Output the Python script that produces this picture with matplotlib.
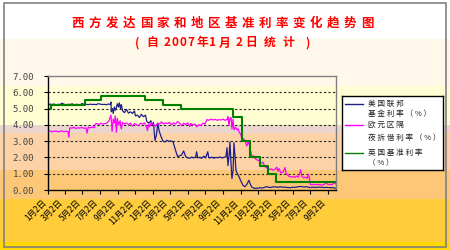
import pandas as pd
import matplotlib
matplotlib.use("Agg")
import matplotlib.pyplot as plt
from matplotlib.patches import Rectangle
from matplotlib.lines import Line2D
from matplotlib.ticker import FormatStrFormatter

plt.rcParams['font.family'] = ['Noto Sans CJK SC', 'DejaVu Sans']

# ---- text ----
title_line1 = "西方发达国家和地区基准利率变化趋势图"
title_line2 = ["(", "自", "2", "0", "0", "7", "年", "1", "月", "2", "日", "统", "计", ")"]
series_labels = [["美国联邦", "基金利率（%）"],
                 ["欧元区隔", "夜拆借利率（%）"],
                 ["英国基准利率", "（%）"]]

tick_dates = ['2007-01-02', '2007-03-02', '2007-05-02', '2007-07-02', '2007-09-02', '2007-11-02',
              '2008-01-02', '2008-03-02', '2008-05-02', '2008-07-02', '2008-09-02', '2008-11-02',
              '2009-01-02', '2009-03-02', '2009-05-02', '2009-07-02', '2009-09-02']
tick_labels = ['1月2日', '3月2日', '5月2日', '7月2日', '9月2日', '11月2日',
               '1月2日', '3月2日', '5月2日', '7月2日', '9月2日', '11月2日',
               '1月2日', '3月2日', '5月2日', '7月2日', '9月2日']

# ---- US federal funds (effective) ----
fed_dates = ['2007-01-02', '2007-01-09', '2007-01-16', '2007-01-23', '2007-01-30', '2007-02-06', '2007-02-13',
             '2007-02-20', '2007-02-27', '2007-03-06', '2007-03-13', '2007-03-20', '2007-03-27', '2007-04-03',
             '2007-04-10', '2007-04-17', '2007-04-24', '2007-05-01', '2007-05-08', '2007-05-15', '2007-05-22',
             '2007-05-29', '2007-06-05', '2007-06-12', '2007-06-19', '2007-06-26', '2007-07-03', '2007-07-10',
             '2007-07-17', '2007-07-24', '2007-07-31', '2007-08-07', '2007-08-09', '2007-08-10', '2007-08-14',
             '2007-08-17', '2007-08-21', '2007-08-24', '2007-08-28', '2007-08-31', '2007-09-04', '2007-09-07',
             '2007-09-11', '2007-09-14', '2007-09-19', '2007-09-25', '2007-10-02', '2007-10-09', '2007-10-16',
             '2007-10-23', '2007-10-30', '2007-11-02', '2007-11-09', '2007-11-16', '2007-11-23', '2007-11-30',
             '2007-12-07', '2007-12-12', '2007-12-19', '2007-12-26', '2007-12-31', '2008-01-04', '2008-01-09',
             '2008-01-14', '2008-01-19', '2008-01-24', '2008-01-30', '2008-02-06', '2008-02-13', '2008-02-20',
             '2008-02-27', '2008-03-05', '2008-03-12', '2008-03-18', '2008-03-24', '2008-03-28', '2008-04-04',
             '2008-04-11', '2008-04-18', '2008-04-25', '2008-05-02', '2008-05-09', '2008-05-16', '2008-05-23',
             '2008-05-30', '2008-06-02', '2008-06-06', '2008-06-13', '2008-06-20', '2008-06-27', '2008-07-03',
             '2008-07-11', '2008-07-14', '2008-07-18', '2008-07-25', '2008-08-01', '2008-08-08', '2008-08-15',
             '2008-08-22', '2008-08-29', '2008-09-05', '2008-09-12', '2008-09-16', '2008-09-19', '2008-09-23',
             '2008-09-26', '2008-09-30', '2008-10-03', '2008-10-07', '2008-10-10', '2008-10-14', '2008-10-17',
             '2008-10-22', '2008-10-28', '2008-11-03', '2008-11-10', '2008-11-17', '2008-11-24', '2008-12-01',
             '2008-12-05', '2008-12-10', '2008-12-17', '2008-12-24', '2009-01-02', '2009-01-09', '2009-01-16',
             '2009-01-23', '2009-01-30', '2009-02-06', '2009-02-13', '2009-02-20', '2009-02-27', '2009-03-06',
             '2009-03-13', '2009-03-20', '2009-03-27', '2009-04-03', '2009-04-10', '2009-04-17', '2009-04-24',
             '2009-05-01', '2009-05-08', '2009-05-15', '2009-05-22', '2009-05-29', '2009-06-05', '2009-06-12',
             '2009-06-19', '2009-06-26', '2009-07-03', '2009-07-10', '2009-07-17', '2009-07-24', '2009-07-31',
             '2009-08-07', '2009-08-14', '2009-08-21', '2009-08-28', '2009-09-04', '2009-09-11', '2009-09-18',
             '2009-09-25', '2009-09-30']
fed_vals = [5.24, 5.27, 5.25, 5.28, 5.22, 5.26, 5.25, 5.33, 5.26, 5.24, 5.26, 5.25, 5.29, 5.23,
            5.26, 5.25, 5.24, 5.31, 5.25, 5.26, 5.24, 5.27, 5.25, 5.26, 5.24, 5.30, 5.27, 5.25,
            5.26, 5.24, 5.28, 5.25, 5.40, 4.80, 5.00, 4.70, 5.10, 4.90, 5.05, 5.30, 5.10, 5.35,
            5.00, 5.25, 4.85, 4.75, 4.95, 4.72, 4.80, 4.70, 4.85, 4.55, 4.60, 4.45, 4.65, 4.50,
            4.60, 4.20, 4.10, 4.25, 3.95, 4.15, 3.05, 3.35, 4.10, 3.60, 3.30, 3.00, 2.95, 3.05,
            2.98, 3.02, 2.95, 2.60, 2.25, 2.05, 2.10, 2.15, 2.40, 2.05, 1.98, 1.95, 2.02, 1.97,
            2.05, 2.35, 1.98, 2.00, 1.95, 2.08, 1.97, 2.35, 2.00, 1.96, 2.02, 1.95, 2.00, 1.98,
            2.03, 1.97, 2.00, 2.05, 2.60, 1.50, 2.10, 2.95, 1.55, 0.70, 1.20, 2.90, 2.00, 1.20,
            1.00, 0.80, 0.55, 0.30, 0.20, 0.35, 0.60, 0.40, 0.20, 0.12, 0.10, 0.12, 0.14, 0.12,
            0.15, 0.20, 0.18, 0.15, 0.18, 0.20, 0.18, 0.17, 0.20, 0.17, 0.18, 0.16, 0.15, 0.14,
            0.17, 0.16, 0.18, 0.19, 0.22, 0.20, 0.18, 0.21, 0.17, 0.15, 0.16, 0.17, 0.15, 0.18,
            0.17, 0.16, 0.15, 0.16, 0.15, 0.14, 0.15, 0.12, 0.10]

# ---- euro area overnight (EONIA) ----
eonia_dates = ['2007-01-02', '2007-01-09', '2007-01-16', '2007-01-23', '2007-01-30', '2007-02-06', '2007-02-13',
               '2007-02-20', '2007-02-27', '2007-03-06', '2007-03-13', '2007-03-15', '2007-03-19', '2007-03-26',
               '2007-04-02', '2007-04-09', '2007-04-16', '2007-04-23', '2007-04-30', '2007-05-07', '2007-05-14',
               '2007-05-18', '2007-05-22', '2007-05-29', '2007-06-05', '2007-06-12', '2007-06-15', '2007-06-22',
               '2007-06-29', '2007-07-06', '2007-07-13', '2007-07-20', '2007-07-27', '2007-08-03', '2007-08-09',
               '2007-08-13', '2007-08-17', '2007-08-21', '2007-08-24', '2007-08-28', '2007-08-31', '2007-09-05',
               '2007-09-10', '2007-09-14', '2007-09-19', '2007-09-25', '2007-10-02', '2007-10-09', '2007-10-16',
               '2007-10-23', '2007-10-30', '2007-11-06', '2007-11-13', '2007-11-20', '2007-11-27', '2007-12-04',
               '2007-12-11', '2007-12-14', '2007-12-18', '2007-12-21', '2007-12-28', '2008-01-04', '2008-01-11',
               '2008-01-18', '2008-01-25', '2008-02-01', '2008-02-08', '2008-02-15', '2008-02-22', '2008-02-29',
               '2008-03-07', '2008-03-14', '2008-03-21', '2008-03-28', '2008-04-04', '2008-04-11', '2008-04-18',
               '2008-04-25', '2008-05-02', '2008-05-09', '2008-05-13', '2008-05-20', '2008-05-27', '2008-06-03',
               '2008-06-10', '2008-06-17', '2008-06-24', '2008-07-01', '2008-07-08', '2008-07-15', '2008-07-22',
               '2008-07-29', '2008-08-05', '2008-08-12', '2008-08-19', '2008-08-26', '2008-09-02', '2008-09-09',
               '2008-09-16', '2008-09-19', '2008-09-23', '2008-09-26', '2008-09-30', '2008-10-03', '2008-10-07',
               '2008-10-10', '2008-10-15', '2008-10-20', '2008-10-24', '2008-10-28', '2008-11-03', '2008-11-07',
               '2008-11-12', '2008-11-17', '2008-11-24', '2008-11-28', '2008-12-03', '2008-12-08', '2008-12-12',
               '2008-12-17', '2008-12-22', '2008-12-29', '2009-01-05', '2009-01-12', '2009-01-19', '2009-01-25',
               '2009-02-02', '2009-02-09', '2009-02-16', '2009-02-23', '2009-03-02', '2009-03-08', '2009-03-12',
               '2009-03-16', '2009-03-22', '2009-03-29', '2009-04-06', '2009-04-09', '2009-04-13', '2009-04-19',
               '2009-04-26', '2009-05-03', '2009-05-10', '2009-05-17', '2009-05-23', '2009-05-30', '2009-06-03',
               '2009-06-09', '2009-06-16', '2009-06-22', '2009-06-26', '2009-06-30', '2009-07-03', '2009-07-10',
               '2009-07-17', '2009-07-24', '2009-07-31', '2009-08-07', '2009-08-14', '2009-08-21', '2009-08-28',
               '2009-09-02', '2009-09-09', '2009-09-16', '2009-09-23', '2009-09-28', '2009-09-30']
eonia_vals = [3.60, 3.62, 3.58, 3.60, 3.63, 3.57, 3.60, 3.62, 3.58, 3.61, 3.58, 3.25, 3.82, 3.80,
              3.85, 3.78, 3.82, 3.80, 3.84, 3.79, 3.81, 3.50, 3.85, 3.82, 3.87, 3.82, 4.05, 4.08,
              4.02, 4.10, 4.05, 4.08, 4.12, 4.28, 4.60, 3.60, 4.35, 4.10, 4.55, 3.55, 4.40, 4.00,
              4.25, 3.75, 4.15, 4.05, 4.12, 4.02, 4.10, 3.92, 4.08, 4.00, 3.95, 4.10, 4.05, 4.12,
              3.85, 3.65, 4.05, 3.88, 4.15, 4.02, 3.92, 4.10, 4.05, 4.18, 4.05, 4.12, 4.08, 4.15,
              4.00, 4.12, 4.05, 4.20, 4.10, 3.95, 4.10, 4.02, 4.12, 3.90, 4.08, 4.00, 4.05, 3.88,
              4.02, 3.95, 4.10, 4.05, 4.32, 4.28, 4.35, 4.30, 4.34, 4.28, 4.32, 4.30, 4.35, 4.28,
              4.33, 4.50, 3.95, 4.40, 4.45, 3.75, 4.35, 3.70, 3.85, 3.70, 3.75, 3.55, 3.40, 3.10,
              3.15, 3.05, 2.70, 2.95, 2.75, 2.30, 2.05, 2.10, 1.95, 1.85, 1.80, 1.65, 1.70, 1.45,
              1.35, 1.25, 1.30, 1.22, 1.28, 1.40, 1.15, 1.32, 1.05, 1.08, 1.38, 1.02, 0.95, 0.85,
              0.80, 0.82, 0.78, 0.85, 0.80, 1.25, 0.85, 0.75, 0.78, 0.72, 0.95, 0.70, 0.33, 0.32,
              0.35, 0.33, 0.34, 0.32, 0.30, 0.35, 0.45, 0.33, 0.35, 0.32, 0.45, 0.40, 0.36]

# ---- UK bank rate ----
uk_dates = ['2007-01-02', '2007-01-11', '2007-05-10', '2007-07-05', '2007-12-06', '2008-02-07', '2008-04-10',
            '2008-10-08', '2008-11-06', '2008-12-04', '2009-01-08', '2009-02-05', '2009-03-05', '2009-09-30']
uk_vals = [5.00, 5.25, 5.50, 5.75, 5.50, 5.25, 5.00, 4.50, 3.00, 2.00, 1.50, 1.00, 0.50, 0.50]

line_colors = ['#1F1F8C', '#FF00FF', '#008000']

W, H = 450, 250
fig = plt.figure(figsize=(4.5, 2.5), dpi=100)


def fx(x):
    return x / W


def fy(y):
    return 1 - y / H


# background gradient bands (pixel rows from top)
bands = [(0, 39, '#FFFFFF'), (39, 86, '#FFF8EA'), (86, 125, '#FFFDD2'), (125, 133, '#EAD6CC'),
         (133, 170, '#FCD2A6'), (170, 199, '#FCC877'), (199, 242, '#FFCC3C'), (242, 250, '#FFD800')]
for top, bot, c in bands:
    fig.add_artist(Rectangle((0, fy(bot)), 1, (bot - top) / H, transform=fig.transFigure,
                             facecolor=c, edgecolor='none', zorder=-10))
fig.add_artist(Rectangle((fx(4), fy(247)), 442 / W, 244 / H, transform=fig.transFigure,
                         fill=False, edgecolor='#808080', lw=1.2, zorder=10))

# titles, characters spaced out one by one
for i, ch in enumerate(title_line1):
    fig.text(fx(78 + i * 17.0), fy(23), ch, color='red', fontsize=9, fontweight='bold',
             ha='center', va='center')
line2_x = [137, 152, 167, 175, 183, 191, 202, 213, 225, 239, 251, 270, 288, 308]
for ch, x in zip(title_line2, line2_x):
    fig.text(fx(x), fy(43), ch, color='red', fontsize=8.5, fontweight='bold', ha='center', va='center')

# main plot
ax = fig.add_axes([fx(48), fy(190), 288 / W, 114 / H])
ax.set_facecolor('none')
ax.plot(pd.to_datetime(fed_dates), fed_vals, color=line_colors[0], lw=0.9)
ax.plot(pd.to_datetime(eonia_dates), eonia_vals, color=line_colors[1], lw=0.9)
ax.plot(pd.to_datetime(uk_dates), uk_vals, color=line_colors[2], lw=1.5, drawstyle='steps-post')

for v in range(1, 7):
    ax.axhline(v, color='#222222', lw=0.8, ls=(0, (2, 2)), zorder=0.5)

ax.set_xlim(pd.Timestamp('2007-01-02'), pd.Timestamp('2009-09-30'))
ax.set_ylim(0, 7)
ax.set_yticks(range(8))
ax.yaxis.set_major_formatter(FormatStrFormatter('%.2f'))
for lbl in ax.get_yticklabels():
    lbl.set_family('DejaVu Sans Mono')
ax.tick_params(axis='y', labelsize=6.5, labelcolor='#444444', length=3, pad=7)
ax.set_xticks(pd.to_datetime(tick_dates))
ax.set_xticklabels(tick_labels, rotation=45, ha='right', fontsize=6)
ax.tick_params(axis='x', length=3, pad=3)

for side in ['left', 'bottom']:
    ax.spines[side].set_color('black')
    ax.spines[side].set_linewidth(1)
for side in ['top', 'right']:
    ax.spines[side].set_color('#808080')
    ax.spines[side].set_linewidth(1)

# legend box
lax = fig.add_axes([fx(342), fy(170), 101 / W, 74 / H])
lax.set_xlim(0, 101)
lax.set_ylim(74, 0)
lax.set_xticks([])
lax.set_yticks([])
lax.set_facecolor('white')
for s in lax.spines.values():
    s.set_color('black')
    s.set_linewidth(1)
entry_y = [(8, 18), (29, 42), (57, 67)]
for (y1, y2), lab, c in zip(entry_y, series_labels, line_colors):
    lax.add_line(Line2D([3, 21], [y1, y1], color=c, lw=1))
    lax.text(26, y1, " ".join(lab[0]), fontsize=5.5, va='center', ha='left', color='#222222')
    lax.text(26, y2, " ".join(lab[1]), fontsize=5.5, va='center', ha='left', color='#222222')

fig.savefig('out.png', dpi=100)
